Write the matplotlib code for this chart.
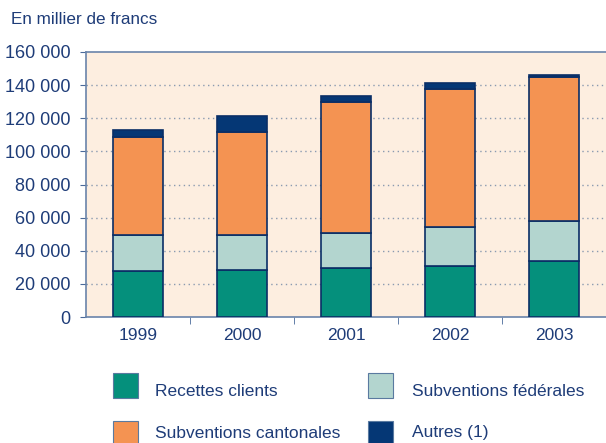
import matplotlib
matplotlib.use("Agg")
import matplotlib.pyplot as plt
from matplotlib.patches import Rectangle
import numpy as np

years = ["1999", "2000", "2001", "2002", "2003"]
recettes_clients = [27500, 28100, 29500, 30500, 33700]
subv_federales = [21800, 21200, 21400, 23800, 24200]
subv_cantonales = [59600, 62700, 78800, 83400, 86900]
autres = [3800, 9500, 3600, 3500, 1200]
series_names = ["Recettes clients", "Subventions fédérales", "Subventions cantonales", "Autres (1)"]
series_colors = ["#05907C", "#B3D5CF", "#F49352", "#053775"]
yticks = [0, 20000, 40000, 60000, 80000, 100000, 120000, 140000, 160000]

plt.rcParams['font.family'] = ['Liberation Sans', 'DejaVu Sans']
txt = "#1E3C78"
W, H = 606, 443
fig = plt.figure(figsize=(W/100, H/100), dpi=100)
ax = fig.add_axes([86/W, 1-317/H, (606-86)/W, (317-52)/H])
ax.set_facecolor("#FDEEE0")

x = np.arange(len(years))
bottom = np.zeros(len(years))
for vals, col in zip([recettes_clients, subv_federales, subv_cantonales, autres], series_colors):
    ax.bar(x, vals, bottom=bottom, width=0.48, color=col, edgecolor="#0A2E66", linewidth=1.2, zorder=3)
    bottom += np.array(vals)

ax.set_xlim(-0.5, 4.49)
ax.set_ylim(0, 160000)
ax.set_yticks(yticks)
ax.set_yticklabels([f"{v:,}".replace(",", " ") for v in yticks], fontsize=13, color=txt)
ax.set_xticks(x)
ax.set_xticklabels(years, fontsize=12.5, color=txt)
ax.set_xticks(np.arange(len(years)) + 0.5, minor=True)
ax.tick_params(axis='x', which='major', length=0, pad=8)
ax.tick_params(axis='x', which='minor', length=5, color="#4A6A9A", direction='out')
ax.tick_params(axis='y', length=4, color="#4A6A9A", pad=7)
for y in yticks[1:-1]:
    ax.axhline(y, color="#8A9AB0", linestyle=(0, (1, 2.5)), linewidth=1, zorder=1)
for s in ["left", "bottom", "top"]:
    ax.spines[s].set_color("#6A84AA")
    ax.spines[s].set_linewidth(1.2)
ax.spines["right"].set_visible(False)

fig.text(11/W, 1-19/H, "En millier de francs", fontsize=12.3, color=txt, va='center', ha='left')

legend_items = [
    (113, 373, 155, 391, 0), (368, 373, 412, 391, 1),
    (113, 421, 155, 433, 2), (368, 421, 412, 433, 3),
]
for sx, sy, tx, ty, i in legend_items:
    fig.add_artist(Rectangle((sx/W, 1-(sy+25)/H), 25/W, 25/H, transform=fig.transFigure,
                             facecolor=series_colors[i], edgecolor="#5A7AA0", linewidth=0.8))
    fig.text(tx/W, 1-ty/H, series_names[i], fontsize=12.5, color=txt, va='center', ha='left')

fig.savefig("out.png", dpi=100)
